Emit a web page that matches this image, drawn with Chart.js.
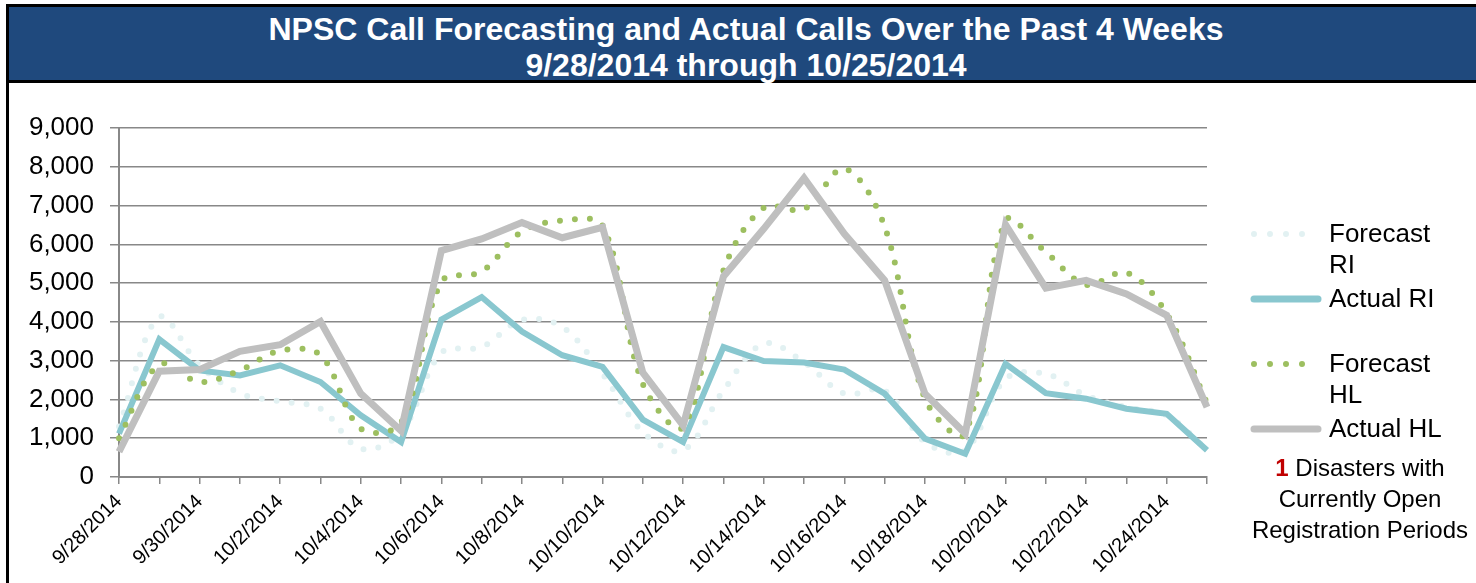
<!DOCTYPE html>
<html>
<head>
<meta charset="utf-8">
<script src="https://cdn.jsdelivr.net/npm/chart.js@4/dist/chart.umd.min.js"></script>
<style>
  body { margin: 0; background: #fff; font-family: "Liberation Sans", Arial, sans-serif; }
  #wrap { position: relative; width: 1476px; height: 583px; overflow: hidden; }
  #frame { position: absolute; left: 6px; top: 4px; width: 1500px; height: 620px;
           border-left: 3px solid #000; border-top: 3px solid #000; }
  #title { position: absolute; left: 9px; top: 7px; width: 1467px; height: 76px; box-sizing: border-box;
           background: #1f497d; border-bottom: 3px solid #000; color: #fff; font-weight: bold;
           font-size: 32px; line-height: 36px; text-align: center; padding: 4px 0 0 7px; }
  #chart { position: absolute; left: 0; top: 0; }
  .lg { position: absolute; left: 1329px; font-size: 26px; line-height: 31px; color: #000; white-space: nowrap; }
  .sw { position: absolute; left: 1248px; }
  #note { position: absolute; left: 1245px; top: 452px; width: 230px; text-align: center;
          font-size: 24px; line-height: 31px; color: #000; white-space: nowrap; }
  #note b { color: #c00000; }
</style>
</head>
<body>
<div id="wrap">
  <div id="frame"></div>
  <div id="title">NPSC Call Forecasting and Actual Calls Over the Past 4 Weeks<br>9/28/2014 through 10/25/2014</div>
  <canvas id="chart" width="1476" height="583"></canvas>
  <div id="legend"></div>
  <div id="note"><b>1</b> Disasters with<br>Currently Open<br>Registration Periods</div>
</div>
<script>
// --- data ---
const dates = ['9/28/2014','9/29/2014','9/30/2014','10/1/2014','10/2/2014','10/3/2014','10/4/2014',
  '10/5/2014','10/6/2014','10/7/2014','10/8/2014','10/9/2014','10/10/2014','10/11/2014',
  '10/12/2014','10/13/2014','10/14/2014','10/15/2014','10/16/2014','10/17/2014','10/18/2014',
  '10/19/2014','10/20/2014','10/21/2014','10/22/2014','10/23/2014','10/24/2014','10/25/2014'];
const forecastRI = [1300,4120,2880,2160,1950,1760,730,1150,3200,3350,4050,3870,2660,1160,
  690,2230,3440,2960,2150,2230,900,690,2530,2660,2100,1800,1590,700];
const actualRI = [1120,3550,2750,2620,2880,2450,1590,900,4060,4640,3750,3140,2840,1480,
  900,3350,2990,2950,2770,2150,990,600,2920,2160,2020,1760,1630,690];
const forecastHL = [1000,2900,2450,2750,3260,3140,1250,1400,5030,5300,6330,6610,6480,2400,
  1290,5330,6940,6910,7950,6460,2020,1120,6610,5800,4960,5270,4210,1900];
const actualHL = [650,2730,2770,3240,3410,4010,2150,1190,5840,6140,6560,6170,6440,2690,
  1330,5170,6400,7710,6270,5070,2150,1120,6510,4870,5070,4720,4170,1800];
const yMax = 9000, yStep = 1000;

const series = [
  { label: 'Forecast RI', data: forecastRI, color: '#e2f1f2', dotted: true, width: 6, order: 3, legendY: 218, lines: ['Forecast', 'RI'] },
  { label: 'Actual RI', data: actualRI, color: '#89c7cf', dotted: false, width: 6, order: 2, legendY: 283, lines: ['Actual RI'] },
  { label: 'Forecast HL', data: forecastHL, color: '#9dbf60', dotted: true, width: 6, order: 1, legendY: 348, lines: ['Forecast', 'HL'] },
  { label: 'Actual HL', data: actualHL, color: '#bfbfbf', dotted: false, width: 7, order: 0, legendY: 413, lines: ['Actual HL'] }
];

Chart.defaults.font.family = '"Liberation Sans", Arial, sans-serif';
Chart.defaults.color = '#000';

new Chart(document.getElementById('chart'), {
  type: 'line',
  data: {
    labels: dates,
    datasets: series.map(s => ({
      label: s.label,
      data: s.data,
      borderColor: s.color,
      borderWidth: s.width,
      borderDash: s.dotted ? [0, 15] : [],
      borderCapStyle: s.dotted ? 'round' : 'butt',
      borderJoinStyle: s.dotted ? 'round' : 'miter',
      tension: s.dotted ? 0.35 : 0,
      pointRadius: 0,
      fill: false,
      order: s.order
    }))
  },
  options: {
    responsive: false,
    animation: false,
    layout: { padding: { top: 128, right: 269, left: 0, bottom: 0 } },
    plugins: { legend: { display: false }, tooltip: { enabled: false } },
    scales: {
      x: {
        grid: { drawOnChartArea: false, drawTicks: true, tickLength: 7, color: '#888', lineWidth: 1.5 },
        border: { color: '#888', width: 2 },
        ticks: {
          autoSkip: false, maxRotation: 45, minRotation: 45, padding: 6,
          font: { size: 20 },
          callback: (v, i) => i % 2 === 0 ? dates[i] : ''
        },
        afterFit: s => { s.height = 106; }
      },
      y: {
        min: 0, max: yMax,
        ticks: { stepSize: yStep, font: { size: 26 }, padding: 16 },
        grid: { color: '#888', lineWidth: 1.5, tickLength: 9 },
        border: { color: '#888', width: 2 },
        afterFit: s => { s.width = 119; }
      }
    }
  }
});

// --- legend ---
const lg = document.getElementById('legend');
series.forEach(s => {
  const sw = document.createElementNS('http://www.w3.org/2000/svg', 'svg');
  sw.setAttribute('class', 'sw');
  sw.setAttribute('width', 76); sw.setAttribute('height', 12);
  sw.style.top = (s.legendY + 16 - 6) + 'px';
  const ln = document.createElementNS('http://www.w3.org/2000/svg', 'line');
  ln.setAttribute('x1', 6); ln.setAttribute('x2', 70);
  ln.setAttribute('y1', 6); ln.setAttribute('y2', 6);
  ln.setAttribute('stroke', s.color);
  ln.setAttribute('stroke-width', s.dotted ? 6 : 7);
  ln.setAttribute('stroke-linecap', 'round');
  if (s.dotted) ln.setAttribute('stroke-dasharray', '0 16');
  sw.appendChild(ln);
  lg.appendChild(sw);
  const t = document.createElement('div');
  t.className = 'lg';
  t.style.top = s.legendY + 'px';
  t.innerHTML = s.lines.join('<br>');
  lg.appendChild(t);
});
</script>
</body>
</html>
